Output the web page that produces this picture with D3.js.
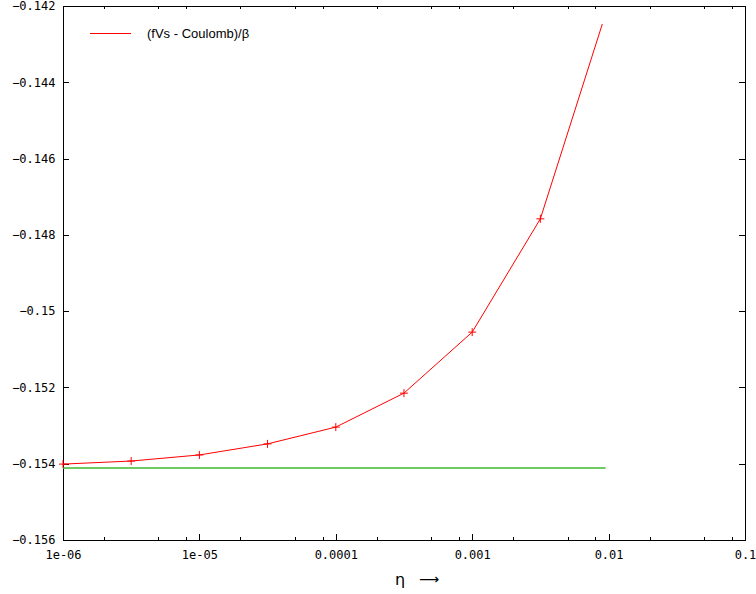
<!DOCTYPE html>
<head>
<meta charset="utf-8">
<script src="https://cdn.jsdelivr.net/npm/d3@7/dist/d3.min.js"></script>
<style>
body { margin: 0; background: #fff; }
.tick text { font-family: "DejaVu Sans Mono", monospace; font-size: 12px; fill: #000; }
</style>
</head>
<body>
<script>
// red series: (fVs - Coulomb)/beta against eta
var eta = [1e-6, 3.16e-6, 1e-5, 3.16e-5, 1e-4, 3.16e-4, 1e-3, 3.16e-3, 9e-3];
var val = [-0.15401, -0.15393, -0.15377, -0.15348, -0.15304, -0.15215, -0.15055, -0.14758, -0.14247];
// green reference line
var refEta = [1e-6, 9.5e-3];
var refVal = [-0.15411, -0.15411];
var yTicks = [-0.142, -0.144, -0.146, -0.148, -0.15, -0.152, -0.154, -0.156];
var xTicks = [1e-6, 1e-5, 1e-4, 1e-3, 1e-2, 1e-1];
var xTickLabels = ["1e-06", "1e-05", "0.0001", "0.001", "0.01", "0.1"];

var width = 756, height = 594;
var pL = 63, pR = 745, pT = 6, pB = 540;

var svg = d3.select("body").append("svg")
  .attr("width", width)
  .attr("height", height);

var x = d3.scaleLog().domain([1e-6, 1e-1]).range([pL, pR]);
var y = d3.scaleLinear().domain([-0.156, -0.142]).range([pB, pT]);

// minor ticks at 2, 5, 8 of each decade
var minor = [];
xTicks.slice(0, -1).forEach(function(d) { [2, 5, 8].forEach(function(m) { minor.push(d * m); }); });

// frame
svg.append("rect")
  .attr("x", pL + 0.5).attr("y", pT + 0.5)
  .attr("width", pR - pL).attr("height", pB - pT)
  .attr("fill", "none").attr("stroke", "#000").attr("stroke-width", 1);

// bottom axis
var xAxis = svg.append("g").attr("transform", "translate(0," + (pB + 0.5) + ")")
  .call(d3.axisBottom(x).tickValues(xTicks).tickSize(0).tickPadding(10)
    .tickFormat(function(d, i) { return xTickLabels[i]; }));
xAxis.select(".domain").remove();

svg.selectAll(".xmaj").data(xTicks).enter().append("line")
  .attr("x1", function(d) { return Math.round(x(d)) + 0.5; })
  .attr("x2", function(d) { return Math.round(x(d)) + 0.5; })
  .attr("y1", pB).attr("y2", pB - 6)
  .attr("stroke", "#000");
svg.selectAll(".xmin").data(minor).enter().append("line")
  .attr("x1", function(d) { return Math.round(x(d)) + 0.5; })
  .attr("x2", function(d) { return Math.round(x(d)) + 0.5; })
  .attr("y1", pB).attr("y2", pB - 3)
  .attr("stroke", "#000");
// top mirror (minor)
svg.selectAll(".xmint").data(minor).enter().append("line")
  .attr("x1", function(d) { return Math.round(x(d)) + 0.5; })
  .attr("x2", function(d) { return Math.round(x(d)) + 0.5; })
  .attr("y1", pT).attr("y2", pT + 3)
  .attr("stroke", "#000");

// left axis
var yAxis = svg.append("g").attr("transform", "translate(" + (pL + 0.5) + ",0)")
  .call(d3.axisLeft(y).tickValues(yTicks).tickSize(0).tickPadding(8)
    .tickFormat(function(d) { return d3.format("")(d).replace("-", "\u2212"); }));
yAxis.select(".domain").remove();

svg.selectAll(".ymaj").data(yTicks).enter().append("line")
  .attr("x1", pL).attr("x2", pL + 6)
  .attr("y1", function(d) { return Math.round(y(d)) + 0.5; })
  .attr("y2", function(d) { return Math.round(y(d)) + 0.5; })
  .attr("stroke", "#000");
svg.selectAll(".ymajr").data(yTicks).enter().append("line")
  .attr("x1", pR).attr("x2", pR - 6)
  .attr("y1", function(d) { return Math.round(y(d)) + 0.5; })
  .attr("y2", function(d) { return Math.round(y(d)) + 0.5; })
  .attr("stroke", "#000");

// green line
var ref = refEta.map(function(d, i) { return [d, refVal[i]]; });
svg.append("path").datum(ref)
  .attr("d", d3.line().x(function(d) { return x(d[0]); }).y(function(d) { return y(d[1]); }))
  .attr("fill", "none").attr("stroke", "#3cba2e").attr("stroke-width", 1.5);

// red series
var pts = eta.map(function(d, i) { return [d, val[i]]; });
svg.append("path").datum(pts)
  .attr("d", d3.line().x(function(d) { return x(d[0]); }).y(function(d) { return y(d[1]); }))
  .attr("fill", "none").attr("stroke", "#ff0000").attr("stroke-width", 1);

svg.selectAll(".pt").data(pts.slice(0, -1)).enter().append("path")
  .attr("d", function(d) {
    var cx = x(d[0]), cy = y(d[1]);
    return "M" + (cx - 4) + "," + cy + "H" + (cx + 4) + "M" + cx + "," + (cy - 4) + "V" + (cy + 4);
  })
  .attr("stroke", "#ff0000").attr("stroke-width", 1).attr("fill", "none");

// legend
svg.append("line").attr("x1", 90).attr("x2", 131).attr("y1", 33.5).attr("y2", 33.5)
  .attr("stroke", "#ff0000").attr("stroke-width", 1);
svg.append("text").attr("x", 147).attr("y", 38)
  .style("font-family", "'Liberation Sans', Arial, sans-serif").style("font-size", "13px")
  .text("(fVs - Coulomb)/\u03b2");

// x label
svg.append("text").attr("x", 400).attr("y", 585).attr("text-anchor", "middle")
  .style("font-family", "'DejaVu Sans', sans-serif").style("font-size", "16px")
  .text("\u03b7");
svg.append("text").attr("x", 429).attr("y", 584).attr("text-anchor", "middle")
  .style("font-family", "'DejaVu Sans', sans-serif").style("font-size", "14px")
  .text("\u27f6");
</script>
</body>
